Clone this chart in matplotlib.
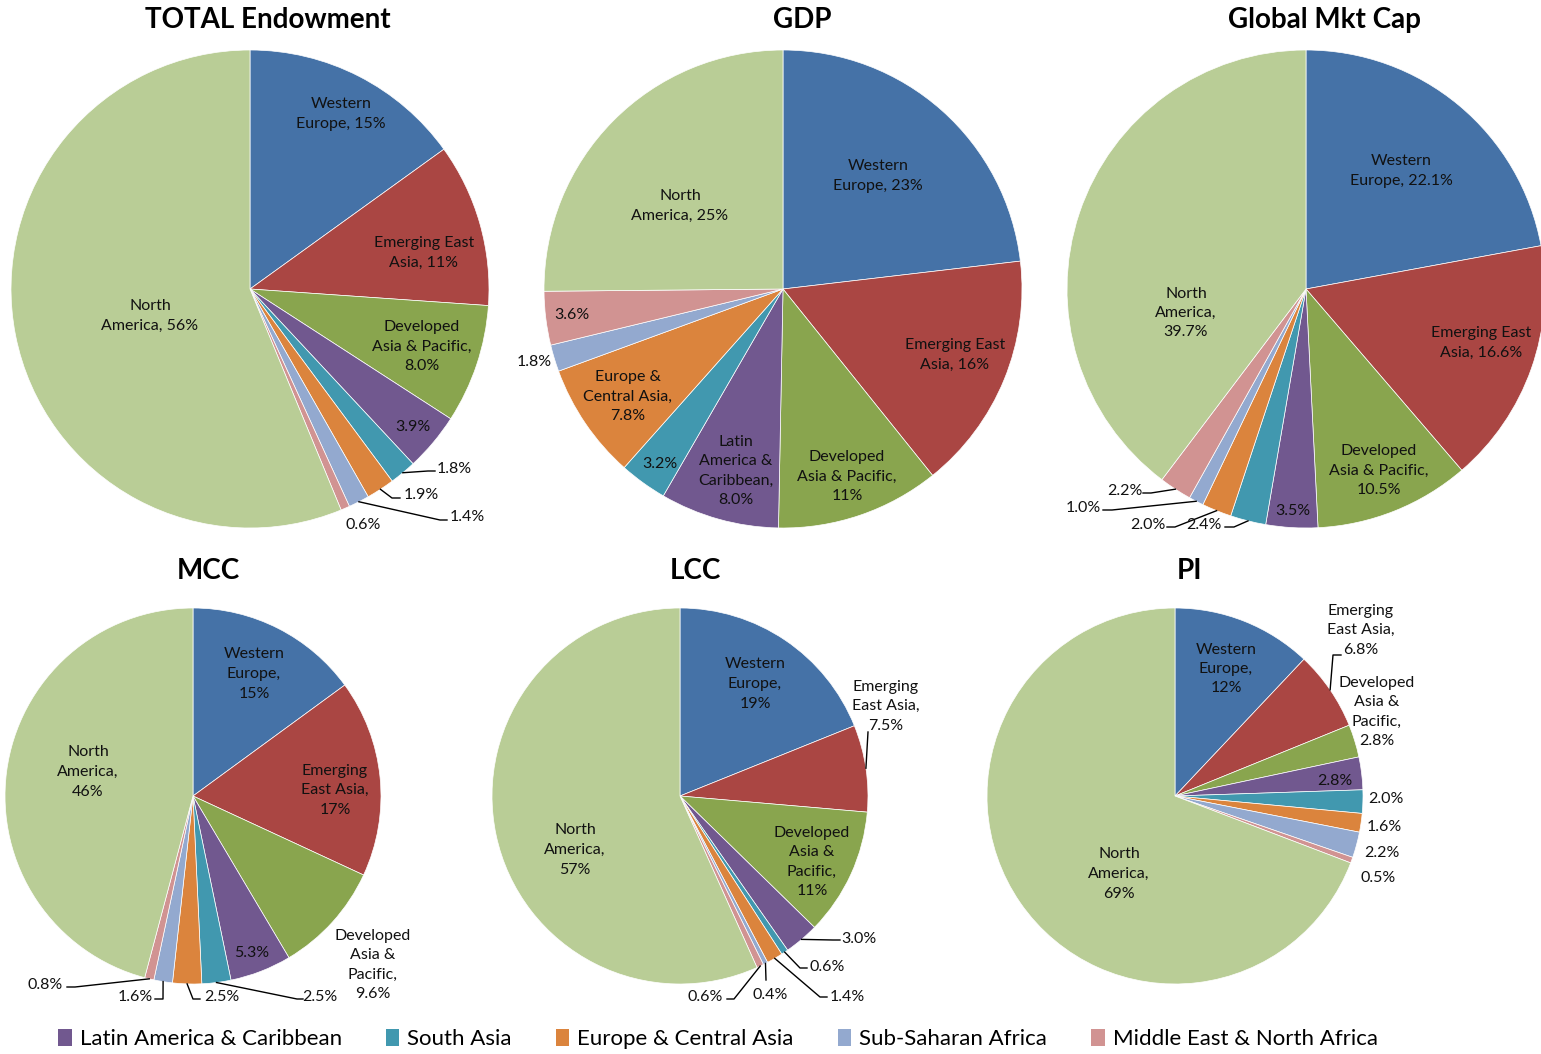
import matplotlib.pyplot as plt
from matplotlib.patches import Patch
import numpy as np

plt.rcParams['font.family'] = ['Lato', 'DejaVu Sans']

W, H = 1541, 1054

regions = ['Western Europe', 'Emerging East Asia', 'Developed Asia & Pacific',
           'Latin America & Caribbean', 'South Asia', 'Europe & Central Asia',
           'Sub-Saharan Africa', 'Middle East & North Africa', 'North America']
colors = ['#4572A7', '#AA4643', '#89A54E', '#71588F', '#4198AF',
          '#DB843D', '#93A9CF', '#D19392', '#B9CD96']

# shares in percent, same order as regions
total_endowment = [15, 11, 8.0, 3.9, 1.8, 1.9, 1.4, 0.6, 56]
gdp = [23, 16, 11, 8.0, 3.2, 7.8, 1.8, 3.6, 25]
global_mkt_cap = [22.1, 16.6, 10.5, 3.5, 2.4, 2.0, 1.0, 2.2, 39.7]
mcc = [15, 17, 9.6, 5.3, 2.5, 2.5, 1.6, 0.8, 46]
lcc = [19, 7.5, 11, 3.0, 0.6, 1.4, 0.4, 0.6, 57]
pi = [12, 6.8, 2.8, 2.8, 2.0, 1.6, 2.2, 0.5, 69]


def fmt(v, style):
    if style == 'fixed':
        return f'{v:.1f}%'
    return f'{v:.0f}%' if v >= 10 else f'{v:.1f}%'


# label layout per wedge: (text template, text centre in px, leader points in px)
charts = [
    dict(title='TOTAL Endowment', title_xy=(268, 20), values=total_endowment,
         center=(250, 289), radius=239, style='sig',
         labels=[('Western\nEurope, {}', (341, 114), None),
                 ('Emerging East\nAsia, {}', (424, 253), None),
                 ('Developed\nAsia & Pacific,\n{}', (422, 347), None),
                 ('{}', (413, 427), None),
                 ('{}', (454, 469), [(428, 471), (435, 471)]),
                 ('{}', (421, 495), [(392, 498), (400, 498)]),
                 ('{}', (467, 517), [(440, 520), (447, 520)]),
                 ('{}', (363, 525), None),
                 ('North\nAmerica, {}', (150, 316), None)]),
    dict(title='GDP', title_xy=(802, 20), values=gdp,
         center=(783, 289), radius=239, style='sig',
         labels=[('Western\nEurope, {}', (878, 176), None),
                 ('Emerging East\nAsia, {}', (955, 355), None),
                 ('Developed\nAsia & Pacific,\n{}', (847, 477), None),
                 ('Latin\nAmerica &\nCaribbean,\n{}', (736, 471), None),
                 ('{}', (660, 464), None),
                 ('Europe &\nCentral Asia,\n{}', (628, 397), None),
                 ('{}', (534, 362), None),
                 ('{}', (572, 315), None),
                 ('North\nAmerica, {}', (680, 206), None)]),
    dict(title='Global Mkt Cap', title_xy=(1325, 20), values=global_mkt_cap,
         center=(1306, 289), radius=239, style='fixed',
         labels=[('Western\nEurope, {}', (1401, 171), None),
                 ('Emerging East\nAsia, {}', (1481, 343), None),
                 ('Developed\nAsia & Pacific,\n{}', (1379, 471), None),
                 ('{}', (1293, 511), None),
                 ('{}', (1204, 525), [(1234, 527), (1225, 527)]),
                 ('{}', (1148, 525), [(1175, 527), (1167, 527)]),
                 ('{}', (1083, 508), [(1112, 510), (1103, 510)]),
                 ('{}', (1125, 491), [(1151, 493), (1143, 493)]),
                 ('North\nAmerica,\n{}', (1186, 313), None)]),
    dict(title='MCC', title_xy=(208, 571), values=mcc,
         center=(193, 796), radius=188, style='sig',
         labels=[('Western\nEurope,\n{}', (254, 674), None),
                 ('Emerging\nEast Asia,\n{}', (335, 790), None),
                 ('Developed\nAsia &\nPacific,\n{}', (373, 965), None),
                 ('{}', (252, 953), None),
                 ('{}', (320, 997), [(297, 999), (303, 999)]),
                 ('{}', (222, 997), [(193, 999), (200, 999)]),
                 ('{}', (135, 997), [(163, 999), (155, 999)]),
                 ('{}', (45, 985), [(75, 987), (67, 987)]),
                 ('North\nAmerica,\n{}', (88, 772), None)]),
    dict(title='LCC', title_xy=(695, 571), values=lcc,
         center=(680, 796), radius=188, style='sig',
         labels=[('Western\nEurope,\n{}', (755, 684), None),
                 ('Emerging\nEast Asia,\n{}', (886, 706), [(868, 732)]),
                 ('Developed\nAsia &\nPacific,\n{}', (812, 862), None),
                 ('{}', (859, 939), [(833, 940), (840, 940)]),
                 ('{}', (827, 967), [(800, 968), (807, 968)]),
                 ('{}', (847, 997), [(820, 997), (827, 997)]),
                 ('{}', (770, 995), [(766, 980)]),
                 ('{}', (705, 997), [(734, 999), (727, 999)]),
                 ('North\nAmerica,\n{}', (575, 850), None)]),
    dict(title='PI', title_xy=(1190, 571), values=pi,
         center=(1175, 796), radius=188, style='sig',
         labels=[('Western\nEurope,\n{}', (1226, 669), None),
                 ('Emerging\nEast Asia,\n{}', (1361, 630), [(1333, 655), (1341, 655)]),
                 ('Developed\nAsia &\nPacific,\n{}', (1377, 712), None),
                 ('{}', (1335, 781), None),
                 ('{}', (1386, 799), None),
                 ('{}', (1384, 827), None),
                 ('{}', (1382, 853), None),
                 ('{}', (1378, 878), None),
                 ('North\nAmerica,\n{}', (1119, 874), None)]),
]

fig = plt.figure(figsize=(W / 100, H / 100), dpi=100)
ax = fig.add_axes([0, 0, 1, 1])

for ch in charts:
    cx, cy = ch['center']
    r = ch['radius']
    wedges, _ = ax.pie(ch['values'], colors=colors, startangle=90, counterclock=False,
                       center=(cx, H - cy), radius=r,
                       wedgeprops=dict(edgecolor='white', linewidth=0.5))
    ax.text(ch['title_xy'][0], H - ch['title_xy'][1], ch['title'], ha='center', va='center',
            fontsize=20, fontweight='bold')
    for w, v, (tmpl, (tx, ty), leader) in zip(wedges, ch['values'], ch['labels']):
        ax.text(tx, H - ty, tmpl.format(fmt(v, ch['style'])), ha='center', va='center',
                fontsize=11.5, linespacing=1.5, color='#111111')
        if leader:
            mid = np.deg2rad((w.theta1 + w.theta2) / 2)
            xs = [cx + r * np.cos(mid)] + [p[0] for p in leader]
            ys = [H - cy + r * np.sin(mid)] + [H - p[1] for p in leader]
            ax.plot(xs, ys, color='black', linewidth=1)

ax.set_xlim(0, W)
ax.set_ylim(0, H)
ax.axis('off')

legend_idx = [3, 4, 5, 6, 7]
handles = [Patch(facecolor=colors[i]) for i in legend_idx]
fig.legend(handles, [regions[i] for i in legend_idx], loc='center',
           bbox_to_anchor=(718 / W, 1 - 1039 / H), ncol=5, frameon=False,
           fontsize=16, handlelength=0.6, handleheight=0.8, handletextpad=0.35,
           columnspacing=2.0)

fig.savefig('out.png', dpi=100)
